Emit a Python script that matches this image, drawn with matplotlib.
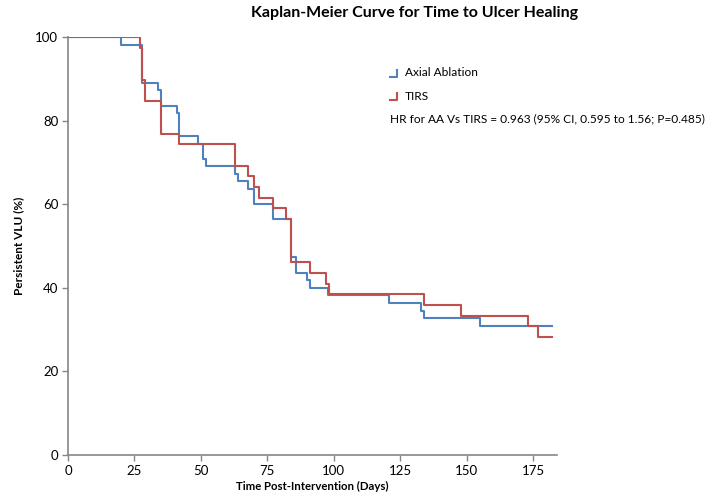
"""
Kaplan-Meier curve for time to ulcer healing (Axial Ablation vs TIRS).
"""
import matplotlib
matplotlib.use('Agg')
import matplotlib.pyplot as plt

# Axial Ablation: event times (days) and persistent VLU (%) after each step
aa_days = [0, 20.1, 27.9, 33.9, 34.9, 40.9, 41.9, 49.0, 50.9, 51.9, 62.9, 63.8,
           67.8, 69.9, 77.1, 84.0, 85.9, 90.0, 90.9, 97.7, 120.8, 132.9, 133.9,
           155.0, 182.0]
aa_pct = [100, 98.2, 89.1, 87.3, 83.6, 81.8, 76.4, 74.5, 70.9, 69.1, 67.3, 65.5,
          63.6, 60.0, 56.4, 47.3, 43.6, 41.8, 40.0, 38.2, 36.4, 34.5, 32.7,
          30.9, 30.9]

# TIRS
tirs_days = [0, 27.0, 27.7, 28.9, 34.9, 41.9, 62.9, 67.8, 69.9, 71.8, 77.1, 82.0,
             83.8, 90.9, 97.0, 98.1, 133.9, 148.0, 173.0, 177.0, 182.0]
tirs_pct = [100, 97.4, 89.7, 84.6, 76.9, 74.4, 69.2, 66.7, 64.1, 61.5, 59.0, 56.4,
            46.2, 43.6, 41.0, 38.5, 35.9, 33.3, 30.8, 28.2, 28.2]

x_ticks = [0, 25, 50, 75, 100, 125, 150, 175]
y_ticks = [0, 20, 40, 60, 80, 100]

BLUE = '#4F81BD'
RED = '#C0504D'
GREY = '#868686'

plt.rcParams['font.family'] = ['Lato', 'DejaVu Sans']

fig = plt.figure(figsize=(7.14, 4.96), dpi=100)
ax = fig.add_axes([68 / 714, 41 / 496, 489 / 714, 418 / 496])

ax.step(aa_days, aa_pct, where='post', color=BLUE, lw=1.5, zorder=3)
ax.step(tirs_days, tirs_pct, where='post', color=RED, lw=1.5, zorder=4)

ax.set_xlim(0, 184)
ax.set_ylim(0, 100)
ax.set_xticks(x_ticks)
ax.set_yticks(y_ticks)
for s in ['top', 'right']:
    ax.spines[s].set_visible(False)
for s in ['left', 'bottom']:
    ax.spines[s].set_color(GREY)
    ax.spines[s].set_linewidth(1.2)
ax.tick_params(direction='out', length=4, width=1.0, color=GREY,
               labelsize=9.5, labelcolor='black', pad=3)

ax.set_xlabel('Time Post-Intervention (Days)', fontsize=8.2, fontweight='bold',
              labelpad=3)
ax.set_ylabel('Persistent VLU (%)', fontsize=8.5, fontweight='bold', labelpad=8)

fig.text(415 / 714, 1 - 13 / 496, 'Kaplan-Meier Curve for Time to Ulcer Healing',
         ha='center', va='center', fontsize=11.5, fontweight='bold')


# legend drawn by hand: small step symbols like the original
def _key(ytop, color, label):
    x0 = 390 / 714
    yb = 1 - (ytop + 4) / 496
    fig.add_artist(plt.Line2D([x0, x0 + 7 / 714, x0 + 7 / 714],
                              [yb, yb, yb + 7 / 496],
                              transform=fig.transFigure, color=color, lw=1.5))
    fig.text(405 / 714, 1 - ytop / 496, label, ha='left', va='center', fontsize=8.6)


_key(73, BLUE, 'Axial Ablation')
_key(96, RED, 'TIRS')
fig.text(390 / 714, 1 - 119 / 496,
         'HR for AA Vs TIRS = 0.963 (95% CI, 0.595 to 1.56; P=0.485)',
         ha='left', va='center', fontsize=8.6)

plt.savefig('out.png', dpi=100)
